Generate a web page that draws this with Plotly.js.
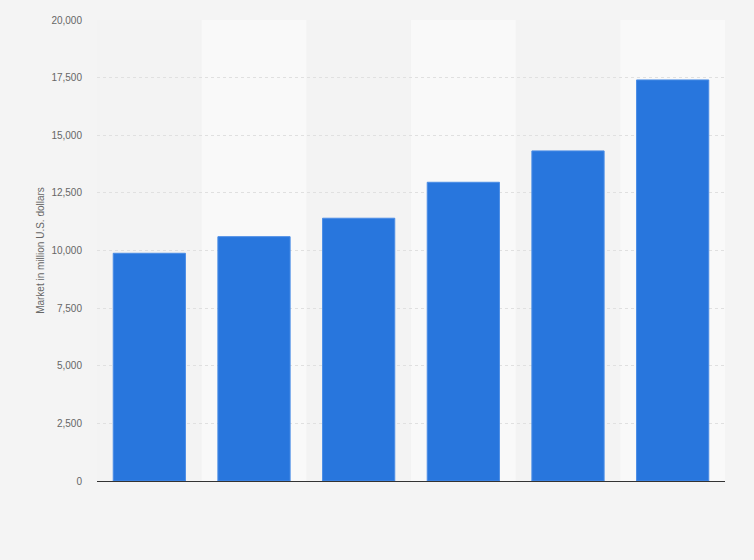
<!DOCTYPE html>
<html>
<head>
<meta charset="utf-8">
<script src="https://cdn.plot.ly/plotly-3.0.1.min.js"></script>
<style>
  html, body { margin: 0; padding: 0; background: #f4f4f4; }
  #chart { width: 754px; height: 560px; }
</style>
</head>
<body>
<div id="chart"></div>
<script>
// -----------------------
// Datos
// -----------------------
const categories = ["1", "2", "3", "4", "5", "6"];
const marketValues = [9880, 10600, 11400, 12960, 14320, 17400];
const yTicks = [0, 2500, 5000, 7500, 10000, 12500, 15000, 17500, 20000];

// Bandas claras en columnas pares
const bandShapes = categories
  .map((c, i) => i)
  .filter(i => i % 2 === 1)
  .map(i => ({
    type: "rect",
    xref: "x",
    yref: "paper",
    x0: i - 0.5,
    x1: i + 0.5,
    y0: 0,
    y1: 1,
    fillcolor: "#f9f9f9",
    line: { width: 0 },
    layer: "below"
  }));

const trace = {
  x: categories,
  y: marketValues,
  type: "bar",
  marker: { color: "#2876dd", line: { color: "#4b8de6", width: 1 } },
  hoverinfo: "y"
};

Plotly.newPlot("chart", [trace], {
  width: 754,
  height: 560,
  margin: { l: 97, r: 29, t: 20, b: 79 },
  paper_bgcolor: "#f4f4f4",
  plot_bgcolor: "#f3f3f3",
  font: { family: "'Liberation Sans', Arial, sans-serif", size: 10, color: "#666" },
  bargap: 0.31,
  showlegend: false,
  shapes: bandShapes,
  xaxis: {
    type: "category",
    showticklabels: false,
    showgrid: false,
    showline: true,
    linecolor: "#333",
    linewidth: 1,
    ticks: "",
    fixedrange: true
  },
  yaxis: {
    range: [0, 20000],
    tickvals: yTicks,
    ticktext: yTicks.map(v => v.toLocaleString("en-US")),
    showgrid: true,
    gridcolor: "#e0e0e0",
    griddash: "dot",
    zeroline: false,
    ticks: "",
    ticklabelstandoff: 14,
    tickfont: { size: 10, color: "#666" },
    title: { text: "Market in million U.S. dollars", font: { size: 10, color: "#666" }, standoff: 4 },
    fixedrange: true
  }
}, { displayModeBar: false, staticPlot: true });
</script>
</body>
</html>
